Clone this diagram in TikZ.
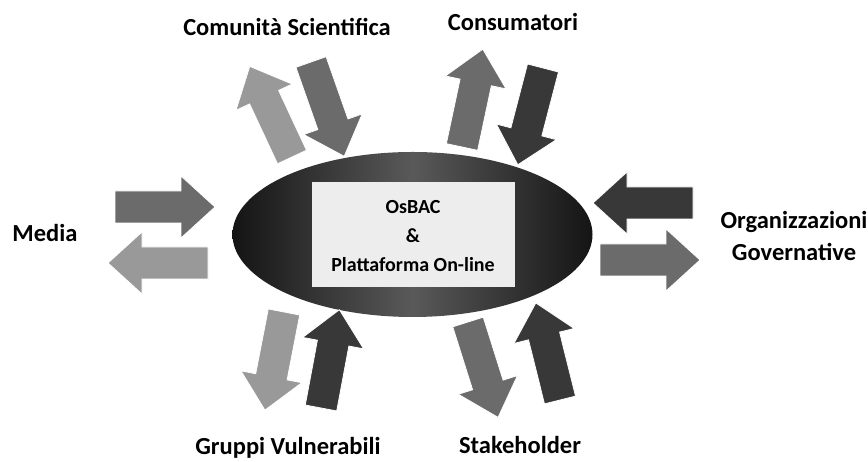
\documentclass[tikz,border=0pt]{standalone}
\usepackage{fontspec}
\setmainfont{Carlito}
\begin{document}
\begin{tikzpicture}[x=1pt,y=1pt,
  label/.style={font=\bfseries\fontsize{24.5}{32}\selectfont, align=center, inner sep=0pt},
  centre/.style={font=\bfseries\fontsize{20}{29}\selectfont, align=center, inner sep=0pt},
  arrlight/.style={fill=black!40, draw=white, line width=0.8pt},
  arrmid/.style={fill=black!58, draw=white, line width=0.8pt},
  arrdark/.style={fill=black!78, draw=white, line width=0.8pt},
  barrow/.pic={\path[pic actions] (0,-16) -- (66,-16) -- (66,-31) -- (100,0) -- (66,31) -- (66,16) -- (0,16) -- cycle;}
]
\useasboundingbox (0,0) rectangle (868,462);

% central ellipse and box
\path[left color=black!92, right color=black!92, middle color=black!65]
  (412.5,227.5) ellipse [x radius=180, y radius=82.5];
\node[fill=black!7, minimum width=203pt, minimum height=105pt, inner sep=0pt] (box) at (413.5,227.5) {};
\node[centre] (core) at (413,226) {OsBAC\\\&\\Plattaforma On-line};

% arrows
\pic[arrmid,  rotate=0]      (mediain)   at (115,255) {barrow};
\pic[arrlight,rotate=180]    (mediaout)  at (208,199) {barrow};
\pic[arrdark, rotate=180]    (orgin)     at (693,259) {barrow};
\pic[arrmid,  rotate=0]      (orgout)    at (600,202) {barrow};
\pic[arrlight,rotate=115]    (comout)    at (292,305) {barrow};
\pic[arrmid,  rotate=-70.6]  (comin)     at (311,400) {barrow};
\pic[arrmid,  rotate=78]     (conout)    at (462,315) {barrow};
\pic[arrdark, rotate=-104.6] (conin)     at (543,394) {barrow};
\pic[arrlight,rotate=-101]   (gruout)    at (284,150) {barrow};
\pic[arrdark, rotate=79.4]   (gruin)     at (321,54)  {barrow};
\pic[arrmid,  rotate=-72.5]  (stkout)    at (468,140) {barrow};
\pic[arrdark, rotate=104]    (stkin)     at (560,62)  {barrow};

% labels
\node[label] (comunita) at (287,435) {Comunità Scientifica};
\node[label] (consumatori) at (513,440) {Consumatori};
\node[label] (media) at (45,229) {Media};
\node[label] (org) at (794,226) {Organizzazioni\\Governative};
\node[label] (gruppi) at (288,14) {Gruppi Vulnerabili};
\node[label] (stake) at (520,17) {Stakeholder};
\end{tikzpicture}
\end{document}
